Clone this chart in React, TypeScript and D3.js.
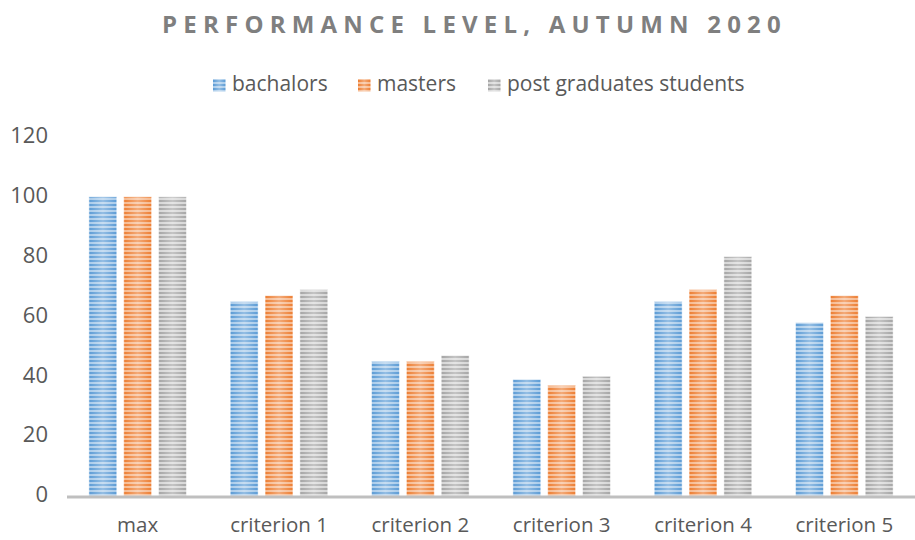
import * as d3 from 'd3';

const categories = ['max', 'criterion 1', 'criterion 2', 'criterion 3', 'criterion 4', 'criterion 5'];
const seriesNames = ['bachalors', 'masters', 'post graduates students'];
const bachalors = [100, 65, 45, 39, 65, 58];
const masters = [100, 67, 45, 37, 69, 67];
const postGrads = [100, 69, 47, 40, 80, 60];
const yTicks = [0, 20, 40, 60, 80, 100, 120];

const baseColors = ['#5b9bd5', '#ed7d31', '#a5a5a5'];
const lightColors = ['#a9cbea', '#f6b98f', '#d6d6d6'];

const W = 915;
const H = 540;
const margin = { top: 137, right: 0, bottom: 44, left: 67 };
const FONT = '"Open Sans", sans-serif';

export default function App() {
  const values = [bachalors, masters, postGrads];

  const x = d3.scaleBand<string>()
    .domain(categories)
    .range([margin.left, W - margin.right])
    .paddingInner(0.31)
    .paddingOuter(0.155);

  const x1 = d3.scaleBand<number>()
    .domain([0, 1, 2])
    .range([0, x.bandwidth()])
    .paddingInner(0.2);

  const y = d3.scaleLinear().domain([0, 120]).range([H - margin.bottom, margin.top]);

  // legend layout
  const legendX = [213, 358, 488];

  return (
    <svg
      width={W}
      height={H}
      style={{ position: 'absolute', left: 0, top: 0, display: 'block', background: '#fff' }}
    >
      <defs>
        {baseColors.map((c, i) => (
          <pattern key={i} id={`stripe-${i}`} width={8} height={4} patternUnits="userSpaceOnUse">
            <rect width={8} height={4} fill={lightColors[i]} />
            <rect width={8} height={2} fill={c} />
          </pattern>
        ))}
        <linearGradient id="shine" x1="0" x2="1" y1="0" y2="0">
          <stop offset="0" stopColor="#fff" stopOpacity={0} />
          <stop offset="0.5" stopColor="#fff" stopOpacity={0.35} />
          <stop offset="1" stopColor="#fff" stopOpacity={0} />
        </linearGradient>
      </defs>

      <text
        x={474.5}
        y={33}
        textAnchor="middle"
        fill="#7f7f7f"
        fontFamily={FONT}
        fontWeight="bold"
        fontSize={24}
        letterSpacing={6.2}
      >
        PERFORMANCE LEVEL, AUTUMN 2020
      </text>

      {seriesNames.map((name, i) => (
        <g key={name} transform={`translate(${legendX[i]},0)`}>
          <rect x={0} y={79} width={12.5} height={12.5} fill={`url(#stripe-${i})`} />
          <rect x={0} y={79} width={12.5} height={12.5} fill="url(#shine)" />
          <text x={19} y={91} fill="#595959" fontFamily={FONT} fontSize={21}>
            {name}
          </text>
        </g>
      ))}

      {yTicks.map((t) => (
        <text
          key={t}
          x={48}
          y={y(t) + 6.3}
          textAnchor="end"
          fill="#595959"
          fontFamily={FONT}
          fontSize={22}
        >
          {t}
        </text>
      ))}

      {categories.map((cat, ci) => (
        <g key={cat} transform={`translate(${x(cat)},0)`}>
          {values.map((vals, si) => {
            const bx = x1(si) ?? 0;
            const by = y(vals[ci]);
            const bh = y(0) - by;
            return (
              <g key={si}>
                <rect x={bx} y={by} width={x1.bandwidth()} height={bh} fill={`url(#stripe-${si})`} />
                <rect
                  x={bx}
                  y={by}
                  width={x1.bandwidth()}
                  height={bh}
                  fill="url(#shine)"
                  stroke="#ffffff"
                  strokeOpacity={0.5}
                  strokeWidth={1}
                />
              </g>
            );
          })}
          <text
            x={x.bandwidth() / 2}
            y={532}
            textAnchor="middle"
            fill="#595959"
            fontFamily={FONT}
            fontSize={20.5}
          >
            {cat}
          </text>
        </g>
      ))}

      <line x1={margin.left} x2={W} y1={y(0) + 1} y2={y(0) + 1} stroke="#bfbfbf" strokeWidth={3} />
    </svg>
  );
}
